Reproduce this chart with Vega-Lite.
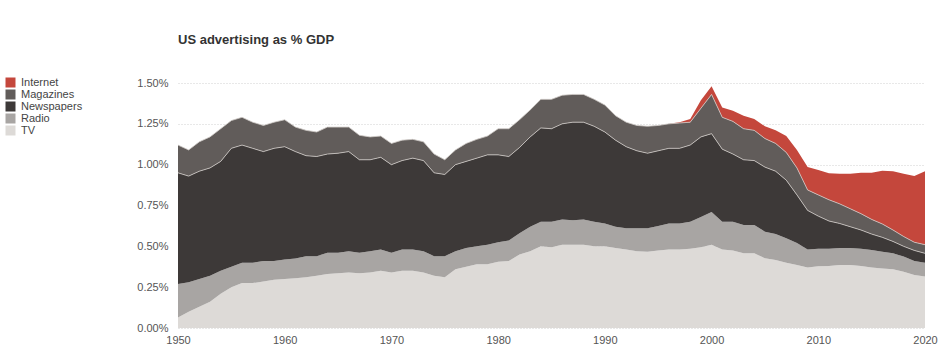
{
"$schema": "https://vega.github.io/schema/vega-lite/v6.json",
"width": 747, "height": 245,
"autosize": {"type": "none"},
"padding": {"left": 178, "top": 83, "right": 26, "bottom": 24},
"background": "white",
"title": {"text": "US advertising as % GDP", "anchor": "start", "frame": "group", "font": "Liberation Sans", "fontSize": 13, "fontWeight": "bold", "color": "#333333", "offset": 30},
"config": {"view": {"stroke": null}, "font": "Liberation Sans"},
"data": {"values": [
{"year":1950,"medium":"TV","value":0.065},{"year":1950,"medium":"Radio","value":0.205},{"year":1950,"medium":"Newspapers","value":0.68},{"year":1950,"medium":"Magazines","value":0.17},
{"year":1951,"medium":"TV","value":0.10},{"year":1951,"medium":"Radio","value":0.18},{"year":1951,"medium":"Newspapers","value":0.65},{"year":1951,"medium":"Magazines","value":0.16},
{"year":1952,"medium":"TV","value":0.13},{"year":1952,"medium":"Radio","value":0.17},{"year":1952,"medium":"Newspapers","value":0.66},{"year":1952,"medium":"Magazines","value":0.18},
{"year":1953,"medium":"TV","value":0.16},{"year":1953,"medium":"Radio","value":0.16},{"year":1953,"medium":"Newspapers","value":0.66},{"year":1953,"medium":"Magazines","value":0.19},
{"year":1954,"medium":"TV","value":0.21},{"year":1954,"medium":"Radio","value":0.14},{"year":1954,"medium":"Newspapers","value":0.67},{"year":1954,"medium":"Magazines","value":0.20},
{"year":1955,"medium":"TV","value":0.25},{"year":1955,"medium":"Radio","value":0.125},{"year":1955,"medium":"Newspapers","value":0.725},{"year":1955,"medium":"Magazines","value":0.17},
{"year":1956,"medium":"TV","value":0.275},{"year":1956,"medium":"Radio","value":0.125},{"year":1956,"medium":"Newspapers","value":0.72},{"year":1956,"medium":"Magazines","value":0.17},
{"year":1957,"medium":"TV","value":0.275},{"year":1957,"medium":"Radio","value":0.125},{"year":1957,"medium":"Newspapers","value":0.70},{"year":1957,"medium":"Magazines","value":0.16},
{"year":1958,"medium":"TV","value":0.285},{"year":1958,"medium":"Radio","value":0.125},{"year":1958,"medium":"Newspapers","value":0.67},{"year":1958,"medium":"Magazines","value":0.16},
{"year":1959,"medium":"TV","value":0.295},{"year":1959,"medium":"Radio","value":0.115},{"year":1959,"medium":"Newspapers","value":0.69},{"year":1959,"medium":"Magazines","value":0.16},
{"year":1960,"medium":"TV","value":0.30},{"year":1960,"medium":"Radio","value":0.12},{"year":1960,"medium":"Newspapers","value":0.69},{"year":1960,"medium":"Magazines","value":0.165},
{"year":1961,"medium":"TV","value":0.305},{"year":1961,"medium":"Radio","value":0.12},{"year":1961,"medium":"Newspapers","value":0.655},{"year":1961,"medium":"Magazines","value":0.15},
{"year":1962,"medium":"TV","value":0.31},{"year":1962,"medium":"Radio","value":0.13},{"year":1962,"medium":"Newspapers","value":0.615},{"year":1962,"medium":"Magazines","value":0.155},
{"year":1963,"medium":"TV","value":0.32},{"year":1963,"medium":"Radio","value":0.12},{"year":1963,"medium":"Newspapers","value":0.61},{"year":1963,"medium":"Magazines","value":0.15},
{"year":1964,"medium":"TV","value":0.33},{"year":1964,"medium":"Radio","value":0.13},{"year":1964,"medium":"Newspapers","value":0.605},{"year":1964,"medium":"Magazines","value":0.165},
{"year":1965,"medium":"TV","value":0.335},{"year":1965,"medium":"Radio","value":0.125},{"year":1965,"medium":"Newspapers","value":0.61},{"year":1965,"medium":"Magazines","value":0.16},
{"year":1966,"medium":"TV","value":0.34},{"year":1966,"medium":"Radio","value":0.13},{"year":1966,"medium":"Newspapers","value":0.61},{"year":1966,"medium":"Magazines","value":0.15},
{"year":1967,"medium":"TV","value":0.335},{"year":1967,"medium":"Radio","value":0.125},{"year":1967,"medium":"Newspapers","value":0.57},{"year":1967,"medium":"Magazines","value":0.15},
{"year":1968,"medium":"TV","value":0.34},{"year":1968,"medium":"Radio","value":0.13},{"year":1968,"medium":"Newspapers","value":0.56},{"year":1968,"medium":"Magazines","value":0.14},
{"year":1969,"medium":"TV","value":0.35},{"year":1969,"medium":"Radio","value":0.13},{"year":1969,"medium":"Newspapers","value":0.565},{"year":1969,"medium":"Magazines","value":0.13},
{"year":1970,"medium":"TV","value":0.34},{"year":1970,"medium":"Radio","value":0.12},{"year":1970,"medium":"Newspapers","value":0.54},{"year":1970,"medium":"Magazines","value":0.13},
{"year":1971,"medium":"TV","value":0.35},{"year":1971,"medium":"Radio","value":0.13},{"year":1971,"medium":"Newspapers","value":0.545},{"year":1971,"medium":"Magazines","value":0.125},
{"year":1972,"medium":"TV","value":0.35},{"year":1972,"medium":"Radio","value":0.13},{"year":1972,"medium":"Newspapers","value":0.56},{"year":1972,"medium":"Magazines","value":0.115},
{"year":1973,"medium":"TV","value":0.34},{"year":1973,"medium":"Radio","value":0.13},{"year":1973,"medium":"Newspapers","value":0.555},{"year":1973,"medium":"Magazines","value":0.115},
{"year":1974,"medium":"TV","value":0.32},{"year":1974,"medium":"Radio","value":0.12},{"year":1974,"medium":"Newspapers","value":0.51},{"year":1974,"medium":"Magazines","value":0.115},
{"year":1975,"medium":"TV","value":0.31},{"year":1975,"medium":"Radio","value":0.13},{"year":1975,"medium":"Newspapers","value":0.50},{"year":1975,"medium":"Magazines","value":0.09},
{"year":1976,"medium":"TV","value":0.36},{"year":1976,"medium":"Radio","value":0.11},{"year":1976,"medium":"Newspapers","value":0.53},{"year":1976,"medium":"Magazines","value":0.09},
{"year":1977,"medium":"TV","value":0.375},{"year":1977,"medium":"Radio","value":0.115},{"year":1977,"medium":"Newspapers","value":0.53},{"year":1977,"medium":"Magazines","value":0.11},
{"year":1978,"medium":"TV","value":0.39},{"year":1978,"medium":"Radio","value":0.11},{"year":1978,"medium":"Newspapers","value":0.54},{"year":1978,"medium":"Magazines","value":0.115},
{"year":1979,"medium":"TV","value":0.39},{"year":1979,"medium":"Radio","value":0.12},{"year":1979,"medium":"Newspapers","value":0.55},{"year":1979,"medium":"Magazines","value":0.115},
{"year":1980,"medium":"TV","value":0.405},{"year":1980,"medium":"Radio","value":0.12},{"year":1980,"medium":"Newspapers","value":0.535},{"year":1980,"medium":"Magazines","value":0.16},
{"year":1981,"medium":"TV","value":0.41},{"year":1981,"medium":"Radio","value":0.125},{"year":1981,"medium":"Newspapers","value":0.515},{"year":1981,"medium":"Magazines","value":0.17},
{"year":1982,"medium":"TV","value":0.45},{"year":1982,"medium":"Radio","value":0.13},{"year":1982,"medium":"Newspapers","value":0.525},{"year":1982,"medium":"Magazines","value":0.17},
{"year":1983,"medium":"TV","value":0.47},{"year":1983,"medium":"Radio","value":0.15},{"year":1983,"medium":"Newspapers","value":0.55},{"year":1983,"medium":"Magazines","value":0.165},
{"year":1984,"medium":"TV","value":0.50},{"year":1984,"medium":"Radio","value":0.15},{"year":1984,"medium":"Newspapers","value":0.575},{"year":1984,"medium":"Magazines","value":0.175},
{"year":1985,"medium":"TV","value":0.495},{"year":1985,"medium":"Radio","value":0.155},{"year":1985,"medium":"Newspapers","value":0.57},{"year":1985,"medium":"Magazines","value":0.18},
{"year":1986,"medium":"TV","value":0.51},{"year":1986,"medium":"Radio","value":0.155},{"year":1986,"medium":"Newspapers","value":0.585},{"year":1986,"medium":"Magazines","value":0.175},
{"year":1987,"medium":"TV","value":0.51},{"year":1987,"medium":"Radio","value":0.15},{"year":1987,"medium":"Newspapers","value":0.60},{"year":1987,"medium":"Magazines","value":0.17},
{"year":1988,"medium":"TV","value":0.51},{"year":1988,"medium":"Radio","value":0.155},{"year":1988,"medium":"Newspapers","value":0.595},{"year":1988,"medium":"Magazines","value":0.17},
{"year":1989,"medium":"TV","value":0.50},{"year":1989,"medium":"Radio","value":0.15},{"year":1989,"medium":"Newspapers","value":0.585},{"year":1989,"medium":"Magazines","value":0.165},
{"year":1990,"medium":"TV","value":0.50},{"year":1990,"medium":"Radio","value":0.14},{"year":1990,"medium":"Newspapers","value":0.56},{"year":1990,"medium":"Magazines","value":0.165},
{"year":1991,"medium":"TV","value":0.49},{"year":1991,"medium":"Radio","value":0.13},{"year":1991,"medium":"Newspapers","value":0.53},{"year":1991,"medium":"Magazines","value":0.15},
{"year":1992,"medium":"TV","value":0.48},{"year":1992,"medium":"Radio","value":0.13},{"year":1992,"medium":"Newspapers","value":0.50},{"year":1992,"medium":"Magazines","value":0.15},
{"year":1993,"medium":"TV","value":0.47},{"year":1993,"medium":"Radio","value":0.14},{"year":1993,"medium":"Newspapers","value":0.475},{"year":1993,"medium":"Magazines","value":0.155},
{"year":1994,"medium":"TV","value":0.467},{"year":1994,"medium":"Radio","value":0.143},{"year":1994,"medium":"Newspapers","value":0.46},{"year":1994,"medium":"Magazines","value":0.165},
{"year":1995,"medium":"TV","value":0.475},{"year":1995,"medium":"Radio","value":0.15},{"year":1995,"medium":"Newspapers","value":0.46},{"year":1995,"medium":"Magazines","value":0.155},
{"year":1996,"medium":"TV","value":0.48},{"year":1996,"medium":"Radio","value":0.16},{"year":1996,"medium":"Newspapers","value":0.46},{"year":1996,"medium":"Magazines","value":0.15},{"year":1996,"medium":"Internet","value":0.0},
{"year":1997,"medium":"TV","value":0.48},{"year":1997,"medium":"Radio","value":0.16},{"year":1997,"medium":"Newspapers","value":0.46},{"year":1997,"medium":"Magazines","value":0.155},{"year":1997,"medium":"Internet","value":0.005},
{"year":1998,"medium":"TV","value":0.485},{"year":1998,"medium":"Radio","value":0.165},{"year":1998,"medium":"Newspapers","value":0.47},{"year":1998,"medium":"Magazines","value":0.14},{"year":1998,"medium":"Internet","value":0.02},
{"year":1999,"medium":"TV","value":0.495},{"year":1999,"medium":"Radio","value":0.185},{"year":1999,"medium":"Newspapers","value":0.49},{"year":1999,"medium":"Magazines","value":0.175},{"year":1999,"medium":"Internet","value":0.05},
{"year":2000,"medium":"TV","value":0.51},{"year":2000,"medium":"Radio","value":0.20},{"year":2000,"medium":"Newspapers","value":0.48},{"year":2000,"medium":"Magazines","value":0.24},{"year":2000,"medium":"Internet","value":0.05},
{"year":2001,"medium":"TV","value":0.48},{"year":2001,"medium":"Radio","value":0.17},{"year":2001,"medium":"Newspapers","value":0.445},{"year":2001,"medium":"Magazines","value":0.195},{"year":2001,"medium":"Internet","value":0.06},
{"year":2002,"medium":"TV","value":0.475},{"year":2002,"medium":"Radio","value":0.175},{"year":2002,"medium":"Newspapers","value":0.415},{"year":2002,"medium":"Magazines","value":0.20},{"year":2002,"medium":"Internet","value":0.065},
{"year":2003,"medium":"TV","value":0.457},{"year":2003,"medium":"Radio","value":0.173},{"year":2003,"medium":"Newspapers","value":0.40},{"year":2003,"medium":"Magazines","value":0.19},{"year":2003,"medium":"Internet","value":0.08},
{"year":2004,"medium":"TV","value":0.457},{"year":2004,"medium":"Radio","value":0.173},{"year":2004,"medium":"Newspapers","value":0.395},{"year":2004,"medium":"Magazines","value":0.185},{"year":2004,"medium":"Internet","value":0.07},
{"year":2005,"medium":"TV","value":0.427},{"year":2005,"medium":"Radio","value":0.163},{"year":2005,"medium":"Newspapers","value":0.395},{"year":2005,"medium":"Magazines","value":0.175},{"year":2005,"medium":"Internet","value":0.075},
{"year":2006,"medium":"TV","value":0.416},{"year":2006,"medium":"Radio","value":0.159},{"year":2006,"medium":"Newspapers","value":0.385},{"year":2006,"medium":"Magazines","value":0.17},{"year":2006,"medium":"Internet","value":0.08},
{"year":2007,"medium":"TV","value":0.40},{"year":2007,"medium":"Radio","value":0.15},{"year":2007,"medium":"Newspapers","value":0.355},{"year":2007,"medium":"Magazines","value":0.17},{"year":2007,"medium":"Internet","value":0.10},
{"year":2008,"medium":"TV","value":0.386},{"year":2008,"medium":"Radio","value":0.134},{"year":2008,"medium":"Newspapers","value":0.295},{"year":2008,"medium":"Magazines","value":0.165},{"year":2008,"medium":"Internet","value":0.11},
{"year":2009,"medium":"TV","value":0.37},{"year":2009,"medium":"Radio","value":0.11},{"year":2009,"medium":"Newspapers","value":0.24},{"year":2009,"medium":"Magazines","value":0.125},{"year":2009,"medium":"Internet","value":0.14},
{"year":2010,"medium":"TV","value":0.378},{"year":2010,"medium":"Radio","value":0.107},{"year":2010,"medium":"Newspapers","value":0.20},{"year":2010,"medium":"Magazines","value":0.13},{"year":2010,"medium":"Internet","value":0.152},
{"year":2011,"medium":"TV","value":0.38},{"year":2011,"medium":"Radio","value":0.105},{"year":2011,"medium":"Newspapers","value":0.17},{"year":2011,"medium":"Magazines","value":0.13},{"year":2011,"medium":"Internet","value":0.162},
{"year":2012,"medium":"TV","value":0.386},{"year":2012,"medium":"Radio","value":0.104},{"year":2012,"medium":"Newspapers","value":0.15},{"year":2012,"medium":"Magazines","value":0.12},{"year":2012,"medium":"Internet","value":0.185},
{"year":2013,"medium":"TV","value":0.386},{"year":2013,"medium":"Radio","value":0.104},{"year":2013,"medium":"Newspapers","value":0.13},{"year":2013,"medium":"Magazines","value":0.11},{"year":2013,"medium":"Internet","value":0.215},
{"year":2014,"medium":"TV","value":0.38},{"year":2014,"medium":"Radio","value":0.105},{"year":2014,"medium":"Newspapers","value":0.115},{"year":2014,"medium":"Magazines","value":0.10},{"year":2014,"medium":"Internet","value":0.25},
{"year":2015,"medium":"TV","value":0.37},{"year":2015,"medium":"Radio","value":0.108},{"year":2015,"medium":"Newspapers","value":0.097},{"year":2015,"medium":"Magazines","value":0.09},{"year":2015,"medium":"Internet","value":0.285},
{"year":2016,"medium":"TV","value":0.365},{"year":2016,"medium":"Radio","value":0.102},{"year":2016,"medium":"Newspapers","value":0.088},{"year":2016,"medium":"Magazines","value":0.082},{"year":2016,"medium":"Internet","value":0.326},
{"year":2017,"medium":"TV","value":0.36},{"year":2017,"medium":"Radio","value":0.097},{"year":2017,"medium":"Newspapers","value":0.073},{"year":2017,"medium":"Magazines","value":0.07},{"year":2017,"medium":"Internet","value":0.36},
{"year":2018,"medium":"TV","value":0.345},{"year":2018,"medium":"Radio","value":0.092},{"year":2018,"medium":"Newspapers","value":0.063},{"year":2018,"medium":"Magazines","value":0.06},{"year":2018,"medium":"Internet","value":0.385},
{"year":2019,"medium":"TV","value":0.325},{"year":2019,"medium":"Radio","value":0.085},{"year":2019,"medium":"Newspapers","value":0.065},{"year":2019,"medium":"Magazines","value":0.05},{"year":2019,"medium":"Internet","value":0.405},
{"year":2020,"medium":"TV","value":0.315},{"year":2020,"medium":"Radio","value":0.085},{"year":2020,"medium":"Newspapers","value":0.057},{"year":2020,"medium":"Magazines","value":0.053},{"year":2020,"medium":"Internet","value":0.45}
]},
"transform": [{"stack": "value", "groupby": ["year"], "sort": [{"field": "medium", "order": "descending"}], "as": ["y0", "y1"]}],
"layer": [
 {"mark": {"type": "area", "interpolate": "linear"},
  "encoding": {
   "x": {"field": "year", "type": "quantitative", "scale": {"domain": [1950, 2020], "nice": false, "zero": false},
         "axis": {"values": [1950, 1960, 1970, 1980, 1990, 2000, 2010, 2020], "format": "d", "title": null, "grid": false, "ticks": false, "domain": false, "labelPadding": 6, "labelFontSize": 11, "labelColor": "#555555", "labelFlush": false}},
   "y": {"field": "y1", "type": "quantitative", "scale": {"domain": [0, 1.5], "nice": false},
         "axis": {"values": [0, 0.25, 0.5, 0.75, 1.0, 1.25, 1.5], "labelExpr": "format(datum.value, '.2f') + '%'", "title": null, "ticks": false, "domain": false, "grid": true, "gridDash": [1, 2], "gridColor": "#d0d0d0", "labelPadding": 10, "labelFontSize": 11, "labelColor": "#555555"}},
   "y2": {"field": "y0"},
   "color": {"field": "medium", "type": "nominal",
     "scale": {"domain": ["Internet", "Magazines", "Newspapers", "Radio", "TV"], "range": ["#c4473c", "#615c5a", "#3d3938", "#a8a5a3", "#dddad7"]},
     "legend": {"title": null, "orient": "none", "legendX": -173, "legendY": -6, "symbolType": "square", "symbolSize": 100, "symbolOpacity": 1, "symbolStrokeWidth": 0, "labelFontSize": 11, "labelColor": "#444444", "labelOffset": 5, "rowPadding": 0}}
  }},
 {"transform": [{"filter": {"field": "medium", "oneOf": ["Newspapers", "Magazines"]}}],
  "mark": {"type": "line", "color": "#cfcac6", "strokeWidth": 0.8},
  "encoding": {
   "x": {"field": "year", "type": "quantitative"},
   "y": {"field": "y1", "type": "quantitative"},
   "detail": {"field": "medium"}
  }}
]
}
